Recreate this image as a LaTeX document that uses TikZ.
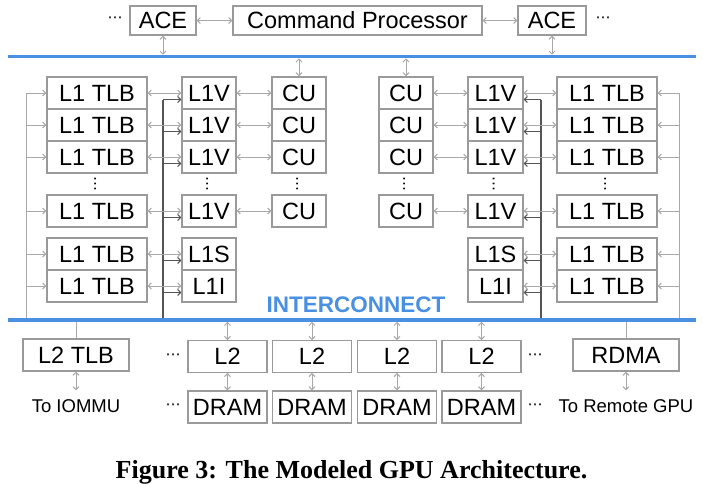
\documentclass[tikz,border=0pt]{standalone}
\usepackage{fontspec}
\usetikzlibrary{arrows.meta,calc}
\newfontfamily\boxfont{Liberation Sans}
\newfontfamily\symfont{DejaVu Sans}
\newfontfamily\capfont{Liberation Serif}
\definecolor{boxgray}{HTML}{9A9A9A}
\definecolor{lngray}{HTML}{A8A8A8}
\definecolor{dkgray}{HTML}{555555}
\definecolor{ibus}{HTML}{4A90E2}
\begin{document}
\begin{tikzpicture}[x=1pt,y=-1pt,
  >={Straight Barb[length=3pt,width=6pt]},
  box/.style={draw=boxgray,line width=1.3pt,inner sep=0pt,text=black,
    font=\boxfont\fontsize{23.5}{26}\selectfont},
  gcon/.style={draw=lngray,line width=1pt},
  dcon/.style={draw=dkgray,line width=1.1pt},
  bluebus/.style={draw=ibus,line width=3.5pt},
  hdots/.style={inner sep=0pt,font=\symfont\fontsize{15}{15}\selectfont},
  lbl/.style={inner sep=0pt,font=\boxfont\fontsize{18.5}{20}\selectfont,anchor=base}
]
\useasboundingbox (0,0) rectangle (703,483);

% ---------- top row ----------
\node[box,minimum width=66pt,minimum height=29pt] (aceL) at (163,20.5) {ACE};
\node[box,minimum width=249pt,minimum height=29pt] (cp) at (357.5,20.5) {Command Processor};
\node[box,minimum width=68pt,minimum height=29pt] (aceR) at (552,20.5) {ACE};
\node[hdots] (dtl) at (115,20) {⋯};
\node[hdots] (dtr) at (603,20) {⋯};

% ---------- buses ----------
\coordinate (tbL) at (8,56.5);
\coordinate (tbR) at (696,56.5);
\coordinate (tbU) at (0,54.7);
\coordinate (tbD) at (0,58.3);
\coordinate (bbL) at (8,320);
\coordinate (bbR) at (696,320);
\coordinate (bbU) at (0,318.2);
\coordinate (bbD) at (0,321.8);
\coordinate (gbL) at (26,320);
\coordinate (dbL) at (163,320);
\coordinate (dbR) at (541,320);
\coordinate (gbR) at (679,320);

% ---------- clusters ----------
\foreach \i/\y/\t in {1/93/L1V,2/125/L1V,3/157/L1V,4/211/L1V,5/254/L1S,6/286/L1I}{
  \node[box,minimum width=100pt,minimum height=32pt] (tlbL\i) at (97,\y) {L1 TLB};
  \node[box,minimum width=54pt,minimum height=32pt] (midL\i) at (209,\y) {\t};
  \node[box,minimum width=100pt,minimum height=32pt] (tlbR\i) at (607,\y) {L1 TLB};
  \node[box,minimum width=55pt,minimum height=32pt] (midR\i) at (495.5,\y) {\t};
}
\foreach \i/\y in {1/93,2/125,3/157,4/211}{
  \node[box,minimum width=54pt,minimum height=32pt] (cuL\i) at (299,\y) {CU};
  \node[box,minimum width=54pt,minimum height=32pt] (cuR\i) at (406,\y) {CU};
}
% vertical dots
\foreach \n/\x in {vd1/97,vd2/209,vd3/299,vd4/406,vd5/495.5,vd6/607}{
  \node[hdots,rotate=90] (\n) at (\x,183.5) {⋯};
}

% bus lines (vertical)
\draw[gcon] (tlbL1.west -| gbL) -- (gbL);
\draw[dcon] ([yshift=-6.5pt]midL1.west -| dbL) -- (dbL);
\draw[gcon] (tlbR1.east -| gbR) -- (gbR);
\draw[dcon] ([yshift=-6.5pt]midR1.east -| dbR) -- (dbR);

\foreach \i in {1,...,6}{
  \draw[gcon,->] (tlbL\i.west -| gbL) -- (tlbL\i.west);
  \draw[gcon,<->] (tlbL\i.east) -- (tlbL\i.east -| midL\i.west);
  \draw[dcon,->] ([yshift=-6.5pt]midL\i.west -| dbL) -- ([yshift=-6.5pt]midL\i.west);
  \draw[gcon,->] (tlbR\i.east -| gbR) -- (tlbR\i.east);
  \draw[gcon,<->] (midR\i.east) -- (midR\i.east -| tlbR\i.west);
  \draw[dcon,->] ([yshift=-6.5pt]midR\i.east -| dbR) -- ([yshift=-6.5pt]midR\i.east);
}
\foreach \i in {1,...,4}{
  \draw[gcon,<->] (midL\i) -- (cuL\i);
  \draw[gcon,<->] (cuR\i) -- (midR\i);
}

% top connections
\draw[gcon,<->] (aceL) -- (cp);
\draw[gcon,<->] (cp) -- (aceR);
\draw[gcon,<->] (aceL.south) -- (aceL.south |- tbU);
\draw[gcon,<->] (aceR.south) -- (aceR.south |- tbU);
\draw[gcon,<->] (cuL1.north |- tbD) -- (cuL1.north);
\draw[gcon,<->] (cuR1.north |- tbD) -- (cuR1.north);

% ---------- bottom ----------
\node[box,minimum width=106pt,minimum height=32pt] (l2tlb) at (76,355) {L2 TLB};
\node[box,minimum width=106pt,minimum height=32pt] (rdma) at (626,355) {RDMA};
\node[lbl,inner ysep=8.5pt] (iommu) at (76,412) {To IOMMU};
\node[lbl,inner ysep=8.5pt] (rgpu) at (626,412) {To Remote GPU};
\draw[gcon] (l2tlb.north) -- (l2tlb.north |- bbD);
\draw[gcon] (rdma.north) -- (rdma.north |- bbD);
\draw[gcon,<->] (l2tlb.south) -- (l2tlb.south |- iommu.north);
\draw[gcon,<->] (rdma.south) -- (rdma.south |- rgpu.north);

\foreach \i/\x in {1/227.5,2/312,3/397,4/481.5}{
  \node[box,minimum width=79pt,minimum height=31.5pt] (ltwo\i) at (\x,356.5) {L2};
  \node[box,minimum width=79pt,minimum height=32pt] (dram\i) at (\x,407) {DRAM};
  \draw[gcon,<->] (ltwo\i.north |- bbD) -- (ltwo\i.north);
  \draw[gcon,<->] (ltwo\i) -- (dram\i);
}
\node[hdots] (dbl1) at (173,356.5) {⋯};
\node[hdots] (dbl2) at (173,406.5) {⋯};
\node[hdots] (dbr1) at (535,356.5) {⋯};
\node[hdots] (dbr2) at (535,406.5) {⋯};

% blue buses
\draw[bluebus] (tbL) -- (tbR);
\draw[bluebus] (bbL) -- (bbR);
\node[inner sep=0pt,text=ibus,font=\boxfont\bfseries\fontsize{22.5}{24}\selectfont] (ic) at (356,304.5) {INTERCONNECT};

% caption
\node[inner sep=0pt,anchor=base,font=\capfont\bfseries\fontsize{26}{30}\selectfont] (cap) at (351.5,478) {Figure 3: The Modeled GPU Architecture.};
\end{tikzpicture}
\end{document}
